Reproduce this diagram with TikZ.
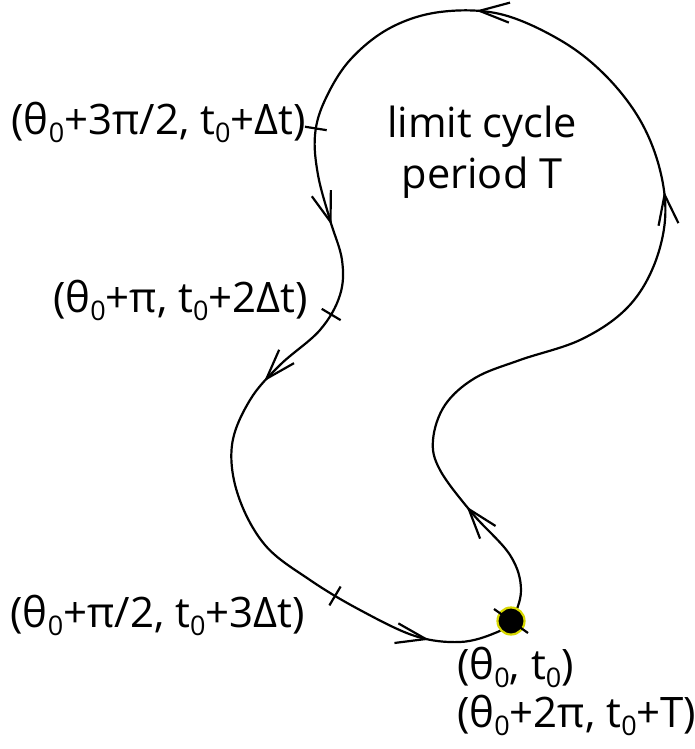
\documentclass[tikz,border=0pt]{standalone}
\usepackage{fontspec}
\setmainfont{Open Sans}
\usetikzlibrary{decorations.markings, arrows.meta}
\definecolor{dotyellow}{RGB}{215,215,0}
\newcommand{\zsub}[1]{\raisebox{-8pt}{\fontsize{27pt}{27pt}\selectfont #1}}
\tikzset{
  curve/.style={line width=2.2pt},
  lbl/.style={inner sep=0pt, font=\fontsize{42pt}{48pt}\selectfont},
  ctr/.style={inner sep=0pt, font=\fontsize{41.5pt}{48pt}\selectfont},
  tickmark/.style={line width=2.2pt},
  barb/.tip={Straight Barb[length=30pt, width=20pt, line width=2.2pt]},
  dotnode/.style={circle, fill=black, draw=dotyellow, line width=2.2pt, minimum size=27pt, inner sep=0pt},
}
\begin{document}
\begin{tikzpicture}[x=1pt, y=-1pt]
\useasboundingbox (0,0) rectangle (695,749);
\fill[white] (0,0) rectangle (695,749);

\draw[curve, postaction={decorate, decoration={markings,
    mark=at position 0.056 with {\arrow{barb}},
    mark=at position 0.302 with {\arrow{barb}},
    mark=at position 0.455 with {\arrow{barb}},
    mark=at position 0.574 with {\draw[tickmark] (0pt,-11pt) -- (0pt,11pt);},
    mark=at position 0.628 with {\arrow{barb}},
    mark=at position 0.679 with {\draw[tickmark] (0pt,-11pt) -- (0pt,11pt);},
    mark=at position 0.731 with {\arrow{barb}},
    mark=at position 0.877 with {\draw[tickmark] (0pt,-11pt) -- (0pt,11pt);},
    mark=at position 0.934 with {\arrow{barb}}
  }}]
  plot[smooth cycle, tension=0.6] coordinates {
  (511,621) (521,590) (510,555) (472,513) (440,470) (433,440) (445,405)
  (475,378) (520,360) (580,340) (625,310) (652,270) (665,220) (660,170)
  (640,120) (605,75) (560,40) (500,14) (440,12) (390,28) (350,60)
  (325,100) (315,135) (318,175) (330,220) (342,260) (340,295) (320,330)
  (280,365) (250,400) (232,445) (238,495) (265,545) (310,580) (360,610)
  (415,636) (460,642) (495,633)};

\node[dotnode] (start) at (511,621) {};
\draw[tickmark] (start) ++(-17,-12) -- ++(34,24);

\node[lbl, anchor=base east] (l1) at (306,135) {(θ\zsub{0}+3π/2, t\zsub{0}+Δt)};
\node[lbl, anchor=base east] (l2) at (308,312) {(θ\zsub{0}+π, t\zsub{0}+2Δt)};
\node[lbl, anchor=base east] (l3) at (305,627) {(θ\zsub{0}+π/2, t\zsub{0}+3Δt)};
\node[lbl, anchor=base west] (l4) at (457,679) {(θ\zsub{0}, t\zsub{0})};
\node[lbl, anchor=base west] (l5) at (457,727) {(θ\zsub{0}+2π, t\zsub{0}+T)};
\node[ctr, anchor=base] (lc1) at (482,137) {limit cycle};
\node[ctr, anchor=base] (lc2) at (482,188) {period T};
\end{tikzpicture}
\end{document}
